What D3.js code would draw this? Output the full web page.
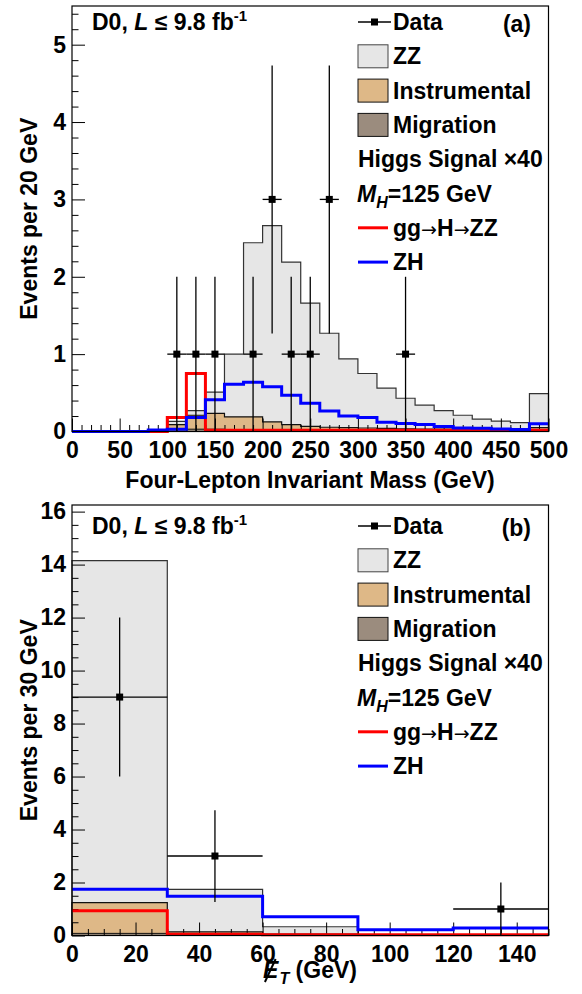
<!DOCTYPE html>
<html><head><meta charset="utf-8">
<script src="https://cdn.jsdelivr.net/npm/d3@7"></script>
<style>
body{margin:0;background:#fff}
svg{display:block;background:#fff}
text{font-family:"Liberation Sans",Arial,Helvetica,sans-serif;font-weight:bold;fill:#000}
</style>
</head><body>
<svg id="c" width="582" height="994"></svg>
<script>
// ---------------- DATA ----------------
// Panel (a): four-lepton invariant mass, 20 GeV bins
const massEdges = [0,20,40,60,80,100,120,140,160,180,200,220,240,260,280,300,320,340,360,380,400,420,440,460,480,500];
const massZZ    = [0,0,0,0,0, 0.04,0.06,0.275,0.81,2.25, 2.535,2.10,1.595,1.215,0.89, 0.705,0.52,0.395,0.31,0.24, 0.185,0.135,0.115,0.095,0.44];
const massInstr = [0,0,0,0,0, 0.06,0.18,0.205,0.165,0.165, 0.105,0.07,0.05,0.04,0.04, 0.035,0.03,0.025,0.02,0.02, 0.015,0.015,0.01,0.01,0.04];
const massMigr  = [0,0,0,0,0, 0.03,0.03,0.03,0.025,0.025, 0.02,0.02,0.015,0.015,0.01, 0.01,0.01,0.01,0.01,0.01, 0.01,0.01,0.01,0.01,0.01];
const massGGH   = [0,0,0,0,0, 0.18,0.75,0.015,0.015,0.015, 0.015,0.015,0.015,0.015,0.015, 0.015,0.015,0.015,0.015,0.015, 0.015,0.015,0.015,0.015,0.015];
const massZH    = [0,0,0,0,0.02, 0.03,0.18,0.41,0.61,0.635, 0.58,0.47,0.365,0.265,0.2, 0.18,0.12,0.105,0.09,0.065, 0.045,0.042,0.033,0.025,0.1];
const massDataX = [110,130,150,190,210,230,250,270,350];
const massDataY = [1,1,1,1,3,1,1,3,1];
const massXTicks = [0,50,100,150,200,250,300,350,400,450,500];
const massYTicks = [0,1,2,3,4,5];

// Panel (b): missing transverse energy, 30 GeV bins
const metEdges = [0,30,60,90,120,150];
const metZZ    = [12.91,1.60,0.28,0.02,0.02];
const metInstr = [1.16,0.10,0.04,0.01,0.01];
const metMigr  = [0.08,0.04,0.01,0.0,0.0];
const metGGH   = [0.93,0.05,0.03,0.03,0.03];
const metZH    = [1.75,1.48,0.71,0.22,0.28];
const metDataX = [15,45,135];
const metDataY = [9,3,1];
const metXTicks = [0,20,40,60,80,100,120,140];
const metYTicks = [0,2,4,6,8,10,12,14,16];

const legendLabels = ["Data","ZZ","Instrumental","Migration","Higgs Signal \u00d740","MH=125 GeV","gg\u2192H\u2192ZZ","ZH"];

// ---------------- DRAW ----------------
const svg = d3.select("#c");
const FS = 23;
const COL = {zz:"#e6e6e6", instr:"#deb887", migr:"#9b8c7e", ggh:"#ff0000", zh:"#0000ff"};

function drawPanel(cfg){
  const g = svg.append("g");
  const x = d3.scaleLinear().domain(cfg.xDom).range([72, 548.5]);
  const y = d3.scaleLinear().domain(cfg.yDom).range([cfg.bottom, cfg.top]);
  const n = cfg.edges.length - 1;
  const pts = vals => {
    const p = vals.map((v,i)=>[cfg.edges[i], v]);
    p.push([cfg.edges[n], vals[n-1]]);
    return p;
  };
  const area = d3.area().curve(d3.curveStepAfter).x(d=>x(d[0])).y0(y(0)).y1(d=>y(d[1]));
  const line = d3.line().curve(d3.curveStepAfter).x(d=>x(d[0])).y(d=>y(d[1]));
  const lineLin = d3.line().x(d=>x(d[0])).y(d=>y(d[1]));
  const outline = vals => {
    const out = [[cfg.edges[0],0]];
    vals.forEach((v,i)=>{ out.push([cfg.edges[i],v]); out.push([cfg.edges[i+1],v]); });
    out.push([cfg.edges[n],0]);
    return out;
  };

  const tot = cfg.zz.map((v,i)=>v+cfg.instr[i]+cfg.migr[i]);
  const inm = cfg.instr.map((v,i)=>v+cfg.migr[i]);

  g.append("path").attr("d", area(pts(tot))).attr("fill", COL.zz);
  g.append("path").attr("d", lineLin(outline(tot))).attr("fill","none").attr("stroke","#333").attr("stroke-width",1.2);
  g.append("path").attr("d", area(pts(inm))).attr("fill", COL.instr);
  g.append("path").attr("d", lineLin(outline(inm))).attr("fill","none").attr("stroke","#111").attr("stroke-width",1.2);
  g.append("path").attr("d", area(pts(cfg.migr))).attr("fill", COL.migr);
  g.append("path").attr("d", lineLin(outline(cfg.migr))).attr("fill","none").attr("stroke","#111").attr("stroke-width",1);

  // ticks (inside frame)
  const ax = g.append("g").attr("transform",`translate(0,${cfg.bottom})`)
    .call(d3.axisBottom(x).tickValues(cfg.xTicks).tickSize(-13).tickPadding(10).tickFormat(d3.format("d")));
  ax.select(".domain").remove();
  ax.selectAll("text").attr("font-size",23).attr("dy","0.71em");
  ax.selectAll("line").attr("stroke","#000");
  const axm = g.append("g").attr("transform",`translate(0,${cfg.bottom})`)
    .call(d3.axisBottom(x).tickValues(d3.range(cfg.xDom[0], cfg.xDom[1]+1e-9, cfg.xMinor).filter(v=>!cfg.xTicks.includes(v))).tickSize(-6.5).tickFormat(""));
  axm.select(".domain").remove();
  axm.selectAll("line").attr("stroke","#000");

  const ay = g.append("g").attr("transform",`translate(72,0)`)
    .call(d3.axisLeft(y).tickValues(cfg.yTicks).tickSize(-13).tickPadding(6).tickFormat(d3.format("d")));
  ay.select(".domain").remove();
  ay.selectAll("text").attr("font-size",23);
  ay.selectAll("line").attr("stroke","#000");
  const minY = d3.range(cfg.yDom[0], cfg.yDom[1], cfg.yMinor).map(v=>+v.toFixed(4)).filter(v=>!cfg.yTicks.includes(v));
  const aym = g.append("g").attr("transform",`translate(72,0)`)
    .call(d3.axisLeft(y).tickValues(minY).tickSize(-6.5).tickFormat(""));
  aym.select(".domain").remove();
  aym.selectAll("line").attr("stroke","#000");

  // signals
  g.append("path").attr("d", line(pts(cfg.ggh))).attr("fill","none").attr("stroke",COL.ggh).attr("stroke-width",3);
  g.append("path").attr("d", line(pts(cfg.zh))).attr("fill","none").attr("stroke",COL.zh).attr("stroke-width",3);

  // data
  const half = (cfg.edges[1]-cfg.edges[0])/2;
  cfg.dataX.forEach((xv,i)=>{
    const yv = cfg.dataY[i], e = Math.sqrt(yv);
    g.append("line").attr("x1",x(xv)).attr("x2",x(xv)).attr("y1",y(yv-e)).attr("y2",y(yv+e)).attr("stroke","#000").attr("stroke-width",1.3);
    g.append("line").attr("x1",x(xv-half)).attr("x2",x(xv+half)).attr("y1",y(yv)).attr("y2",y(yv)).attr("stroke","#000").attr("stroke-width",1.3);
    g.append("rect").attr("x",x(xv)-3.5).attr("y",y(yv)-3.5).attr("width",7).attr("height",7).attr("fill","#000");
  });

  // frame
  g.append("rect").attr("x",72).attr("y",cfg.top).attr("width",548.5-72).attr("height",cfg.bottom-cfg.top)
    .attr("fill","none").attr("stroke","#000").attr("stroke-width",1.2);

  // legend
  const L = i => cfg.top + cfg.lo + 34.3*i;
  // D0 label
  const t = g.append("text").attr("x",92).attr("y",L(0)+8).attr("font-size",FS);
  t.append("tspan").text("D0, ");
  t.append("tspan").attr("font-style","italic").text("L");
  t.append("tspan").text(" \u2264 9.8 fb");
  t.append("tspan").attr("font-size",15).attr("dy",-9).text("-1");
  g.append("text").attr("x",531).attr("y",L(0)+10).attr("text-anchor","end").attr("font-size",FS).text(cfg.tag);

  const lx = 358;
  g.append("line").attr("x1",lx).attr("x2",lx+33).attr("y1",L(0)).attr("y2",L(0)).attr("stroke","#000").attr("stroke-width",1.3);
  g.append("rect").attr("x",lx+13).attr("y",L(0)-3.5).attr("width",7).attr("height",7).attr("fill","#000");
  [[1,COL.zz,"#444"],[2,COL.instr,"#111"],[3,COL.migr,"#111"]].forEach(([i,f,s])=>{
    g.append("rect").attr("x",lx).attr("y",L(i)-11.5).attr("width",30).attr("height",23).attr("fill",f).attr("stroke",s).attr("stroke-width",1);
  });
  [[6,COL.ggh],[7,COL.zh]].forEach(([i,c])=>{
    g.append("line").attr("x1",lx).attr("x2",lx+30).attr("y1",L(i)).attr("y2",L(i)).attr("stroke",c).attr("stroke-width",3);
  });
  [0,1,2,3,7].forEach(i=>{
    g.append("text").attr("x",393).attr("y",L(i)+8).attr("font-size",FS).text(legendLabels[i]);
  });
  // gg -> H -> ZZ with wider arrows
  const gg = g.append("text").attr("x",393).attr("y",L(6)+8).attr("font-size",FS);
  const parts = legendLabels[6].split("\u2192");
  parts.forEach((p,k)=>{
    gg.append("tspan").text(p);
    if(k<parts.length-1) gg.append("tspan").attr("font-family","DejaVu Sans").attr("font-weight","normal").attr("font-size",19).text("\u2192");
  });
  g.append("text").attr("x",lx).attr("y",L(4)+8).attr("font-size",FS).text(legendLabels[4]);
  const mh = g.append("text").attr("x",lx-1).attr("y",L(5)+8).attr("font-size",FS);
  mh.append("tspan").attr("font-style","italic").text("M");
  mh.append("tspan").attr("font-style","italic").attr("font-size",16).attr("dy",6).text("H");
  mh.append("tspan").attr("dy",-6).text("=125 GeV");

  // y title
  g.append("text").attr("transform",`translate(37,${(cfg.top+cfg.bottom)/2}) rotate(-90)`)
    .attr("text-anchor","middle").attr("font-size",FS).text(cfg.yTitle);
  return {g,x,y};
}

drawPanel({
  edges:massEdges, zz:massZZ, instr:massInstr, migr:massMigr, ggh:massGGH, zh:massZH,
  dataX:massDataX, dataY:massDataY, xTicks:massXTicks, yTicks:massYTicks,
  xDom:[0,500], yDom:[0,5.5], xMinor:10, yMinor:0.2, top:6, bottom:431.5, lo:16,
  tag:"(a)", yTitle:"Events per 20 GeV"
});
svg.append("text").attr("x",310).attr("y",488).attr("text-anchor","middle").attr("font-size",FS)
  .text("Four-Lepton Invariant Mass (GeV)");

drawPanel({
  edges:metEdges, zz:metZZ, instr:metInstr, migr:metMigr, ggh:metGGH, zh:metZH,
  dataX:metDataX, dataY:metDataY, xTicks:metXTicks, yTicks:metYTicks,
  xDom:[0,150], yDom:[0,16.25], xMinor:5, yMinor:0.5, top:505, bottom:935.5, lo:21,
  tag:"(b)", yTitle:"Events per 30 GeV"
});
const et = svg.append("text").attr("x",310).attr("y",978).attr("text-anchor","middle").attr("font-size",FS);
et.append("tspan").attr("font-style","italic").text("E");
et.append("tspan").attr("font-style","italic").attr("font-size",16).attr("dx",1).attr("dy",6).text("T");
et.append("tspan").attr("dy",-6).text(" (GeV)");
try{
  const ext = et.node().getExtentOfChar(0);
  svg.append("line").attr("x1",ext.x+ext.width*0.12).attr("y1",978+4).attr("x2",ext.x+ext.width*0.82).attr("y2",978-19)
    .attr("stroke","#000").attr("stroke-width",2);
}catch(e){}
</script>
</body></html>
